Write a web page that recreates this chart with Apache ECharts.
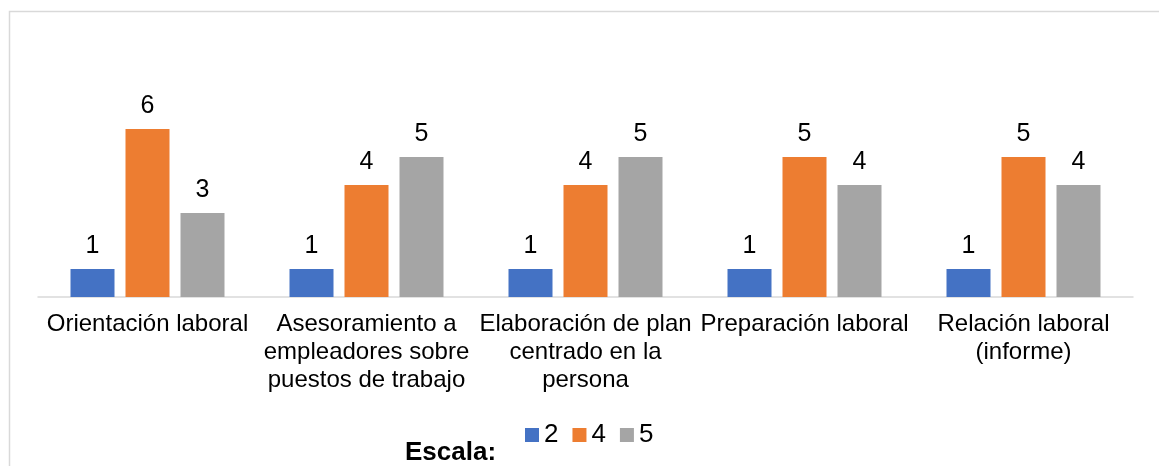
<!DOCTYPE html>
<html>
<head>
<meta charset="utf-8">
<style>
  html, body { margin: 0; padding: 0; background: #fff; }
  #chart { width: 1159px; height: 466px; }
</style>
<script src="https://cdn.jsdelivr.net/npm/echarts@6/dist/echarts.min.js"></script>
</head>
<body>
<div id="chart"></div>
<script>
// Activity categories (line breaks as they wrap under each group)
const categories = [
  'Orientación laboral',
  'Asesoramiento a\nempleadores sobre\npuestos de trabajo',
  'Elaboración de plan\ncentrado en la\npersona',
  'Preparación laboral',
  'Relación laboral\n(informe)'
];

// Counts per scale level
const scale2 = [1, 1, 1, 1, 1];
const scale4 = [6, 4, 4, 5, 5];
const scale5 = [3, 5, 5, 4, 4];

const seriesNames = ['2', '4', '5'];
const colors = ['#4472C4', '#ED7D31', '#A5A5A5'];

const FONT = 'Liberation Sans, Arial, sans-serif';

const chart = echarts.init(document.getElementById('chart'), null, { renderer: 'canvas' });

function barSeries(name, data, color) {
  return {
    name: name,
    type: 'bar',
    data: data,
    barWidth: 44,
    barGap: '25%',
    itemStyle: { color: color },
    label: {
      show: true,
      position: 'top',
      distance: 10,
      color: '#000',
      fontFamily: FONT,
      fontSize: 25
    },
    emphasis: { disabled: true }
  };
}

chart.setOption({
  animation: false,
  backgroundColor: '#fff',
  color: colors,
  grid: { left: 38, right: 26, top: 101, bottom: 169, containLabel: false },
  graphic: [
    {
      type: 'rect',
      shape: { x: 9.5, y: 11.5, width: 1300, height: 600 },
      style: { fill: 'none', stroke: '#D9D9D9', lineWidth: 1.5 },
      silent: true
    },
    {
      type: 'text',
      left: 405,
      top: 440,
      style: {
        text: 'Escala:',
        fill: '#000',
        font: 'bold 26px ' + FONT
      }
    }
  ],
  legend: {
    data: seriesNames,
    left: 520,
    top: 417,
    itemWidth: 14,
    itemHeight: 14,
    itemGap: 14,
    icon: 'rect',
    textStyle: { color: '#000', fontFamily: FONT, fontSize: 26 }
  },
  xAxis: {
    type: 'category',
    data: categories,
    axisLine: { show: true, lineStyle: { color: '#D9D9D9', width: 1.5 } },
    axisTick: { show: false },
    axisLabel: {
      interval: 0,
      margin: 13,
      color: '#000',
      fontFamily: FONT,
      fontSize: 24,
      lineHeight: 28,
      align: 'center'
    }
  },
  yAxis: {
    type: 'value',
    min: 0,
    max: 7,
    interval: 1,
    show: false,
    splitLine: { show: false }
  },
  series: [
    barSeries(seriesNames[0], scale2, colors[0]),
    barSeries(seriesNames[1], scale4, colors[1]),
    barSeries(seriesNames[2], scale5, colors[2])
  ]
});
</script>
</body>
</html>
